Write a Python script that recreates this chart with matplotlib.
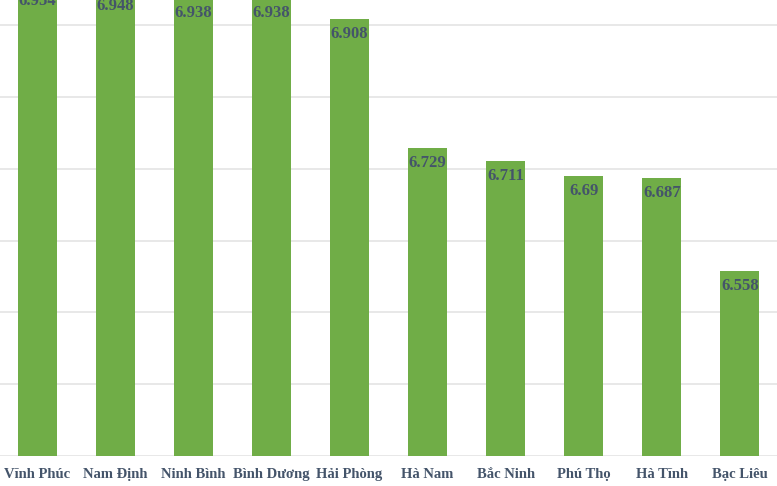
import matplotlib.pyplot as plt

provinces = ["Vĩnh Phúc", "Nam Định", "Ninh Bình", "Bình Dương", "Hải Phòng",
             "Hà Nam", "Bắc Ninh", "Phú Thọ", "Hà Tĩnh", "Bạc Liêu"]
scores = [6.954, 6.948, 6.938, 6.938, 6.908, 6.729, 6.711, 6.69, 6.687, 6.558]
score_labels = ["6.954", "6.948", "6.938", "6.938", "6.908",
                "6.729", "6.711", "6.69", "6.687", "6.558"]

bar_color = "#70AD47"
text_color = "#44546A"
font = ["Liberation Serif", "DejaVu Serif"]

fig = plt.figure(figsize=(7.77, 4.86), dpi=100)
ax = fig.add_axes([-0.0026, 0.0617, 1.0052, 0.9383])

x = range(len(provinces))
bars = ax.bar(x, scores, width=0.5, color=bar_color, zorder=3)

# value labels sit just inside the top of each bar
for b, lab in zip(bars, score_labels):
    ax.annotate(lab, (b.get_x() + b.get_width() / 2, b.get_height()),
                xytext=(0, -5), textcoords="offset points",
                ha="center", va="top", fontsize=12, fontweight="bold",
                color=text_color, family=font, zorder=4, annotation_clip=False)

ax.set_ylim(6.3, 6.935)
ax.set_xlim(-0.5, len(provinces) - 0.5)
ax.set_yticks([6.3, 6.4, 6.5, 6.6, 6.7, 6.8, 6.9])
ax.yaxis.grid(True, color="#E6E6E6", linewidth=1.3, zorder=0)
ax.tick_params(axis="y", left=False, labelleft=False)
ax.tick_params(axis="x", bottom=False, pad=5)
ax.set_xticks(list(x))
ax.set_xticklabels(provinces, fontsize=10.5, fontweight="bold",
                   color=text_color, family=font)
for s in ax.spines.values():
    s.set_visible(False)

fig.savefig("out.png", dpi=100)
